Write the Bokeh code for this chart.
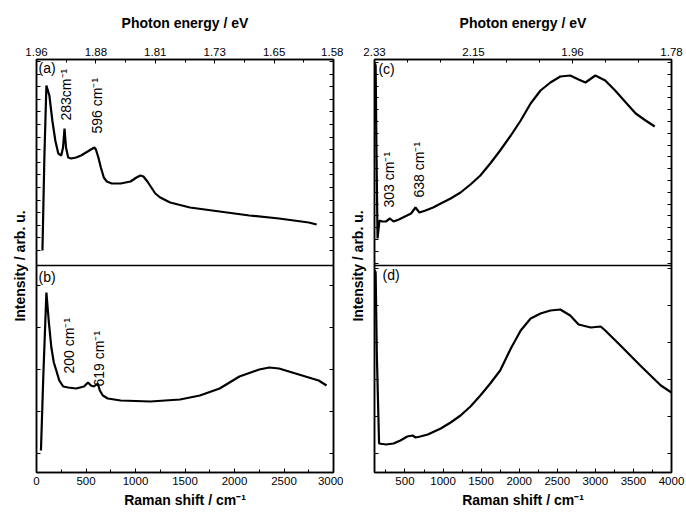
import numpy as np
from bokeh.plotting import figure
from bokeh.models import Range1d, LinearAxis, FixedTicker, Span, Label
from bokeh.layouts import row
from bokeh.embed import file_html
from bokeh.resources import INLINE

# ---------------- data (Raman shift / cm-1, intensity / arb. u.) ----------------
a_shift = [60, 80, 100, 130, 160, 190, 220, 250, 268, 283, 298, 320, 350, 400, 450, 500, 550, 585, 600,
           625, 650, 680, 710, 760, 850, 950, 1010, 1050, 1080, 1120, 1160, 1200, 1250, 1350, 1550, 1850,
           2150, 2450, 2750, 2830]
a_int = [15, 110, 180, 170, 145, 125, 112, 110, 118, 137, 118, 108, 107, 108, 110, 113, 116, 118, 116,
         108, 98, 88, 84, 82, 82, 84, 88, 90, 89, 84, 78, 72, 68, 63, 58, 54, 50, 47, 43, 41]

b_shift = [45, 70, 100, 125, 150, 175, 200, 230, 270, 320, 400, 480, 520, 550, 580, 619, 640, 670, 720,
           850, 1150, 1450, 1650, 1850, 2050, 2250, 2350, 2450, 2650, 2850, 2930]
b_int = [22, 100, 180, 150, 125, 110, 102, 92, 86, 85, 84, 86, 90, 87, 86, 89, 82, 77, 74,
         72, 71, 73, 77, 84, 96, 103, 105, 104, 98, 92, 87]

c_shift = [105, 115, 125, 140, 165, 200, 250, 303, 350, 420, 500, 580, 638, 690, 770, 870, 970, 1100,
           1230, 1360, 1490, 1620, 1750, 1890, 2020, 2150, 2280, 2410, 2540, 2670, 2780, 2870, 3000,
           3130, 3260, 3400, 3530, 3660, 3780]
c_int = [202, 200, 120, 27, 45, 44, 44, 47, 44, 46, 49, 52, 58, 53, 55, 58, 62, 67,
         73, 81, 90, 102, 115, 130, 145, 162, 175, 183, 189, 190, 186, 183, 190,
         185, 175, 163, 152, 145, 139]

d_shift = [105, 115, 130, 160, 250, 350, 440, 530, 600, 640, 700, 800, 970, 1100, 1230, 1360, 1490,
           1620, 1750, 1890, 2020, 2150, 2280, 2410, 2540, 2670, 2780, 2940, 3070, 3130, 3330, 3590,
           3860, 4000]
d_int = [202, 200, 120, 29, 28, 29, 32, 36, 37, 35, 36, 38, 44, 50, 57, 66, 77,
         89, 102, 124, 142, 154, 159, 162, 163, 157, 148, 145, 146, 142, 127, 107,
         87, 80]

# tick labels
left_top_ticks = [0, 600, 1200, 1800, 2400, 3000]
left_top_labels = ["1.96", "1.88", "1.81", "1.73", "1.65", "1.58"]
right_top_ticks = [100, 1400, 2700, 4000]
right_top_labels = ["2.33", "2.15", "1.96", "1.78"]

# peak annotations: (text, x, y)
left_top_notes = [("283cm\u207b\u00b9", 293, 145), ("596 cm\u207b\u00b9", 613, 132)]
left_bot_notes = [("200 cm\u207b\u00b9", 326, 99), ("619 cm\u207b\u00b9", 633, 86)]
right_top_notes = [("303 cm\u207b\u00b9", 288, 58), ("638 cm\u207b\u00b9", 682, 68)]

FONT = "Liberation Sans"


def style_axis(ax, labels=True):
    ax.axis_line_color = "black"
    ax.axis_line_width = 1.5
    ax.major_tick_line_color = "black"
    ax.minor_tick_line_color = "black"
    ax.major_tick_in = 4
    ax.major_tick_out = 0
    ax.minor_tick_in = 3
    ax.minor_tick_out = 0
    ax.major_label_text_font = FONT
    if labels:
        ax.major_label_text_font_size = "11.5px"
        ax.major_label_text_color = "black"
        ax.major_label_standoff = 4
    else:
        ax.major_label_text_font_size = "1px"
        ax.major_label_text_color = None
        ax.major_label_standoff = 0
    ax.axis_label_text_font = FONT
    ax.axis_label_text_font_size = "14px"
    ax.axis_label_text_font_style = "bold"
    ax.axis_label_text_color = "black"


def make_panel(xmin, xmax, bl, br, top_ticks, top_labels, top_minor, bot_ticks, bot_minor, yticks):
    p = figure(width=343, height=512, x_range=Range1d(xmin, xmax), y_range=Range1d(0, 413),
               output_backend="svg", toolbar_location=None,
               min_border_left=bl, min_border_right=br, min_border_top=59, min_border_bottom=40)
    p.extra_y_ranges = {"top": Range1d(-207, 206)}
    p.xgrid.visible = False
    p.ygrid.visible = False
    p.outline_line_color = "black"
    p.outline_line_width = 1.5
    p.background_fill_color = "white"
    p.border_fill_color = "white"

    xb = p.xaxis[0]
    xb.ticker = FixedTicker(ticks=bot_ticks, minor_ticks=bot_minor)
    style_axis(xb)
    xb.axis_label = "Raman shift / cm\u207b\u00b9"
    xb.axis_label_standoff = 4

    xt = LinearAxis(ticker=FixedTicker(ticks=top_ticks, minor_ticks=top_minor),
                    major_label_overrides={t: l for t, l in zip(top_ticks, top_labels)},
                    axis_label="Photon energy / eV")
    style_axis(xt)
    xt.axis_label_standoff = 14
    p.add_layout(xt, "above")

    yl = p.yaxis[0]
    yl.ticker = FixedTicker(ticks=yticks, minor_ticks=[])
    style_axis(yl, labels=False)
    yl.axis_label = "Intensity / arb. u."
    yl.axis_label_standoff = 9

    yr = LinearAxis(ticker=FixedTicker(ticks=yticks, minor_ticks=[]))
    style_axis(yr, labels=False)
    p.add_layout(yr, "right")

    p.add_layout(Span(location=207, dimension="width", line_color="black", line_width=1.5))
    return p


def note(p, text, x, y, top):
    kw = dict(y_range_name="top") if top else {}
    p.add_layout(Label(x=x, y=y, text=text, angle=np.pi / 2, text_align="left",
                       text_baseline="middle", text_font=FONT, text_font_size="14px",
                       text_color="black", **kw))


def tag(p, text, x, y, top):
    kw = dict(y_range_name="top") if top else {}
    p.add_layout(Label(x=x, y=y, text=text, text_align="left", text_baseline="top",
                       text_font=FONT, text_font_size="14px", text_color="black", **kw))


# ---------------- left column (a, b) ----------------
left_yticks = list(np.concatenate([np.arange(19, 207, 42), 207 + np.arange(15, 206, 12.6)]))
p1 = make_panel(0, 3000, 36, 10, left_top_ticks, left_top_labels, list(range(0, 3001, 300)),
                list(range(0, 3001, 500)), list(range(0, 3001, 250)), left_yticks)
p1.line(a_shift, a_int, y_range_name="top", line_color="black", line_width=2.2)
p1.line(b_shift, b_int, line_color="black", line_width=2.2)
for t, x, y in left_top_notes:
    note(p1, t, x, y, True)
for t, x, y in left_bot_notes:
    note(p1, t, x, y, False)
tag(p1, "(a)", 20, 206, True)
tag(p1, "(b)", 20, 204, False)

# ---------------- right column (c, d) ----------------
right_yticks = list(np.concatenate([np.arange(204, 0, -37), 207 + np.arange(203, 0, -11.8)]))
right_minor_top = list(np.linspace(100, 4000, 10))
p2 = make_panel(100, 4000, 31, 15, right_top_ticks, right_top_labels, right_minor_top,
                list(range(500, 4001, 500)), list(range(250, 4001, 250)), right_yticks)
p2.line(c_shift, c_int, y_range_name="top", line_color="black", line_width=2.2)
p2.line(d_shift, d_int, line_color="black", line_width=2.2)
for t, x, y in right_top_notes:
    note(p2, t, x, y, True)
tag(p2, "(c)", 152, 205, True)
tag(p2, "(d)", 205, 206, False)

layout = row(p1, p2, spacing=0)
open("out.html", "w").write(file_html(layout, INLINE))
